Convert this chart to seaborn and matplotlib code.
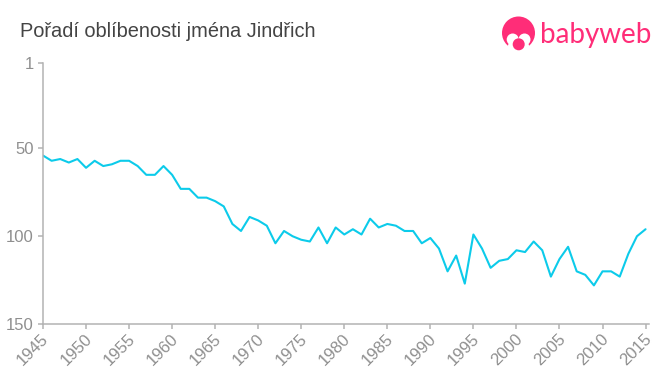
import numpy as np
import pandas as pd
import matplotlib
matplotlib.use("Agg")
import matplotlib.pyplot as plt
from matplotlib.patches import Circle, Ellipse
from matplotlib.transforms import ScaledTranslation
import seaborn as sns

years = list(range(1945, 2016))
ranks = [54, 57, 56, 58, 56, 61, 57, 60, 59, 57,
         57, 60, 65, 65, 60, 65, 73, 73, 78, 78,
         80, 83, 93, 97, 89, 91, 94, 104, 97, 100,
         102, 103, 95, 104, 95, 99, 96, 99, 90, 95,
         93, 94, 97, 97, 104, 101, 107, 120, 111, 127,
         99, 107, 118, 114, 113, 108, 109, 103, 108, 123,
         113, 106, 120, 122, 128, 120, 120, 123, 110, 100,
         96]
year_ticks = list(range(1945, 2016, 5))
rank_ticks = [1, 50, 100, 150]
title = "Pořadí oblíbenosti jména Jindřich"
brand = "babyweb"

sns.set_style("white")
plt.rcParams['font.family'] = ['Liberation Sans', 'DejaVu Sans']

data = pd.DataFrame({"year": years, "rank": ranks})

W, H = 660, 375
fig = plt.figure(figsize=(6.6, 3.75), dpi=100)
ax = fig.add_axes([43 / W, 1 - 324 / H, (649 - 43) / W, (324 - 62.5) / H])

sns.lineplot(data=data, x="year", y="rank", color="#0ccbea", linewidth=1.5, ax=ax)

ax.set_xlim(1945, 2015.4)
ax.set_ylim(150, 1)
ax.set_xticks(year_ticks)
ax.set_yticks(rank_ticks)
ax.set_xlabel("")
ax.set_ylabel("")
ax.tick_params(axis="both", length=3.6, width=1.1, color="#b3b3b3",
               labelcolor="#8f8f8f", labelsize=12, pad=3, bottom=True, left=True)
# rotated labels sit a touch higher and further left in the original
nudge = ScaledTranslation(-2 / 100, 2 / 100, fig.dpi_scale_trans)
for lab in ax.get_xticklabels():
    lab.set_rotation(45)
    lab.set_ha("right")
    lab.set_rotation_mode("anchor")
    lab.set_transform(lab.get_transform() + nudge)
sns.despine(ax=ax)
for side in ["left", "bottom"]:
    ax.spines[side].set_color("#b3b3b3")
    ax.spines[side].set_linewidth(1.1)

fig.text(20 / W, 1 - 37 / H, title, fontsize=14.4, color="#444444")

# logo, pixel coords on a full figure overlay
logo = fig.add_axes([0, 0, 1, 1], facecolor="none")
logo.set_xlim(0, W)
logo.set_ylim(H, 0)
logo.axis("off")
pink = "#ff2d78"
logo.add_patch(Circle((518.5, 33), 16.5, color=pink, lw=0))
logo.add_patch(Ellipse((512.7, 39.5), 12, 12, color="white", lw=0))
logo.add_patch(Ellipse((524.5, 39.5), 12, 12, color="white", lw=0))
logo.add_patch(Ellipse((518.5, 46), 21, 13, color="white", lw=0))
logo.add_patch(Circle((518.7, 44.3), 6, color=pink, lw=0))
logo.text(540, 43.5, brand, fontsize=20, color=pink, family=["Lato", "DejaVu Sans"])

fig.savefig("out.png", dpi=100)
